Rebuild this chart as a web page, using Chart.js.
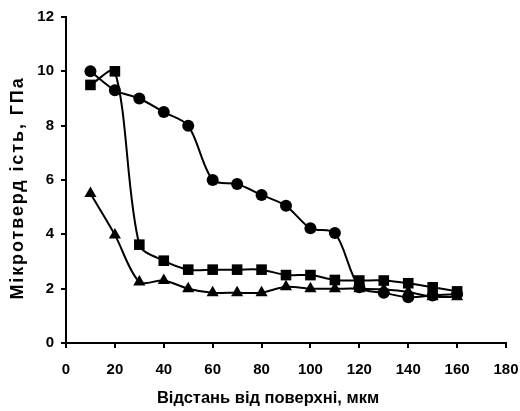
<!DOCTYPE html>
<html>
<head>
<meta charset="utf-8">
<script src="https://cdn.jsdelivr.net/npm/chart.js@4"></script>
<style>
  html, body { margin: 0; padding: 0; background: #fff; }
  #wrap { width: 520px; height: 411px; }
</style>
</head>
<body>
<div id="wrap"><canvas id="chart" width="520" height="411"></canvas></div>
<script>
// Дані
const distances = [10, 20, 30, 40, 50, 60, 70, 80, 90, 100, 110, 120, 130, 140, 150, 160];
const circleSeries = [10.0, 9.3, 9.0, 8.5, 8.0, 6.0, 5.85, 5.45, 5.05, 4.22, 4.05, 2.05, 1.85, 1.68, 1.75, 1.8];
const squareSeries = [9.5, 10.0, 3.62, 3.03, 2.7, 2.7, 2.7, 2.7, 2.5, 2.5, 2.32, 2.3, 2.3, 2.2, 2.05, 1.9];
const triangleSeries = [5.5, 3.98, 2.25, 2.3, 2.0, 1.85, 1.85, 1.85, 2.07, 2.0, 2.0, 2.0, 1.97, 1.88, 1.7, 1.7];

const xTitle = 'Відстань від поверхні, мкм';
const yTitle = 'Мікротверд ість, ГПа';

const FONT = 'Liberation Sans, Arial, sans-serif';

function toPoints(values) {
    return distances.map((x, i) => ({ x, y: values[i] }));
}

function makeDataset(label, values, style, radius) {
    return {
        label,
        data: toPoints(values),
        borderColor: '#000',
        backgroundColor: '#000',
        borderWidth: 2,
        tension: 0.3,
        pointStyle: style,
        pointRadius: radius,
        pointBorderWidth: 0,
        pointBackgroundColor: '#000'
    };
}

// Підписи осей — малюємо вручну (зсув і розрядка, як на оригіналі)
function drawTitle(ctx, text, x, y, size, spacing, angle) {
    ctx.save();
    ctx.translate(x, y);
    ctx.rotate(angle);
    ctx.font = 'bold ' + size + 'px ' + FONT;
    if ('letterSpacing' in ctx) ctx.letterSpacing = spacing + 'px';
    ctx.fillStyle = '#000';
    ctx.textAlign = 'center';
    ctx.textBaseline = 'middle';
    ctx.fillText(text, 0, 0);
    ctx.restore();
}

const axisTitlePlugin = {
    id: 'axisTitles',
    afterDraw(chart) {
        drawTitle(chart.ctx, yTitle, 18, 188, 18, 1.9, -Math.PI / 2);
        drawTitle(chart.ctx, xTitle, 268, 398, 16.5, 0, 0);
    }
};

const tickFont = { family: FONT, size: 15, weight: 'bold' };

new Chart(document.getElementById('chart'), {
    type: 'line',
    data: {
        datasets: [
            makeDataset('circles', circleSeries, 'circle', 6),
            makeDataset('squares', squareSeries, 'rect', 7.5),
            makeDataset('triangles', triangleSeries, 'triangle', 7)
        ]
    },
    options: {
        responsive: false,
        animation: false,
        layout: { padding: { top: 17, right: 14, left: 0, bottom: 0 } },
        plugins: { legend: { display: false }, tooltip: { enabled: false } },
        scales: {
            x: {
                type: 'linear',
                min: 0,
                max: 180,
                ticks: { stepSize: 20, color: '#000', font: tickFont, padding: 13, maxRotation: 0 },
                grid: { drawOnChartArea: false, color: '#000', lineWidth: 2, tickLength: 5 },
                border: { color: '#000', width: 2 },
                title: { display: false },
                afterFit: scale => {
                    scale.height = 68;
                    scale.paddingLeft = 0;
                    scale.paddingRight = 0;
                }
            },
            y: {
                min: 0,
                max: 12,
                ticks: { stepSize: 2, color: '#000', font: tickFont, padding: 7 },
                grid: { drawOnChartArea: false, color: '#000', lineWidth: 2, tickLength: 5 },
                border: { color: '#000', width: 2 },
                title: { display: false },
                afterFit: scale => {
                    scale.width = 66;
                    scale.paddingTop = 0;
                    scale.paddingBottom = 0;
                }
            }
        }
    },
    plugins: [axisTitlePlugin]
});
</script>
</body>
</html>
